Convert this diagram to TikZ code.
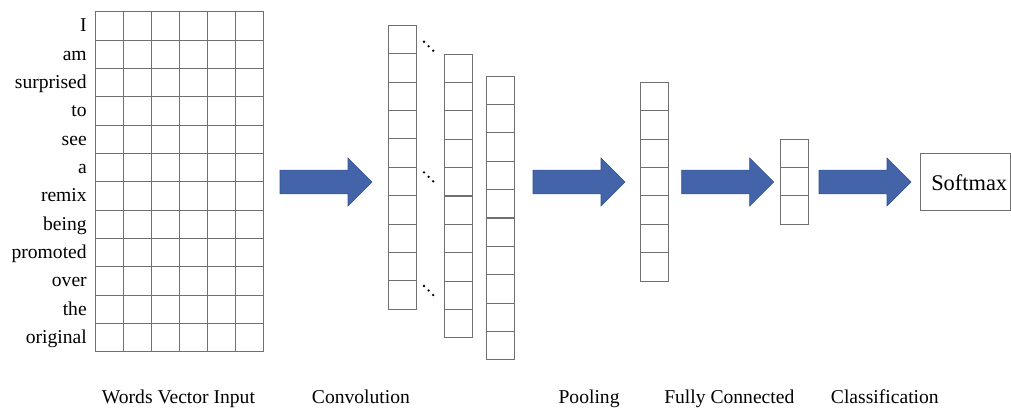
\documentclass[tikz,border=0pt]{standalone}
\usepackage{fontspec}
\setmainfont{Liberation Serif}
\definecolor{linegray}{RGB}{112,112,112}
\definecolor{arrowblue}{RGB}{67,100,168}
\definecolor{arrowedge}{RGB}{52,82,145}
\begin{document}
\begin{tikzpicture}[x=0.75pt,y=-0.75pt,
  cell/.style={draw=linegray,line width=0.75pt,minimum width=21pt,
    minimum height=21.25pt,inner sep=0pt,outer sep=0pt,anchor=north west},
  word/.style={font=\fontsize{14.7}{17}\selectfont,inner sep=0pt,anchor=base east},
  caption/.style={font=\fontsize{14.7}{17}\selectfont,inner sep=0pt,anchor=base west},
  dotmark/.style={fill=black,draw=none},
  bigarrow/.pic={
    \path[fill=arrowblue,draw=arrowedge,line width=0.4pt]
      (0,-11.8) -- (68,-11.8) -- (68,-24) -- (92,0) -- (68,24) -- (68,11.8)
      -- (0,11.8) -- cycle;}]
\useasboundingbox (0,0) rectangle (1011,408);

% input matrix: one row per word, six embedding columns
\foreach \w [count=\r from 0] in {I,am,surprised,to,see,a,remix,being,promoted,over,the,original}{
  \node[word] (w\r) at (87,{11.7+28.33*\r+20.1}) {\w};
  \foreach \c in {0,...,5}
    \node[cell] (in-\r-\c) at ({95+28*\c},{11.7+28.33*\r}) {};
}

% convolution feature maps
\foreach \r in {0,...,9}{
  \node[cell] (convA-\r) at (388.3,{25.3+28.4*\r}) {};
  \node[cell] (convB-\r) at (444,{54+28.4*\r}) {};
  \node[cell] (convC-\r) at (486,{76+28.4*\r}) {};
}

% ellipses between the first two maps
\foreach \y in {41.7,172.3,286}{
  \fill[dotmark] (424,\y) circle (1.3);
  \fill[dotmark] (428.6,{\y+4.5}) circle (1.3);
  \fill[dotmark] (433.2,{\y+9}) circle (1.3);
}

% pooled vector
\foreach \r in {0,...,6}
  \node[cell] (pool-\r) at (640.3,{82.3+28.4*\r}) {};

% fully connected vector
\foreach \r in {0,...,2}
  \node[cell] (fc-\r) at (780.3,{139.3+28.33*\r}) {};

% classifier box
\node[draw=linegray,line width=0.75pt,minimum width=67.5pt,minimum height=42.5pt,
  inner sep=0pt,anchor=north west] (softmax) at (920,153.3) {};
\node[font=\fontsize{16.8}{19}\selectfont,inner sep=0pt,anchor=base west]
  (softmaxlabel) at (931,190.7) {Softmax};

% stage arrows
\pic (arrA) at (280,182) {bigarrow};
\pic (arrB) at (533,182) {bigarrow};
\pic (arrC) at (681.7,182) {bigarrow};
\pic (arrD) at (819,182) {bigarrow};

% stage captions
\node[caption] (capInput) at (101.7,403.3) {Words Vector Input};
\node[caption] (capConv) at (311.7,403.3) {Convolution};
\node[caption] (capPool) at (558.3,403.3) {Pooling};
\node[caption] (capFC) at (664,403.3) {Fully Connected};
\node[caption] (capClass) at (830.7,403.3) {Classification};
\end{tikzpicture}
\end{document}
